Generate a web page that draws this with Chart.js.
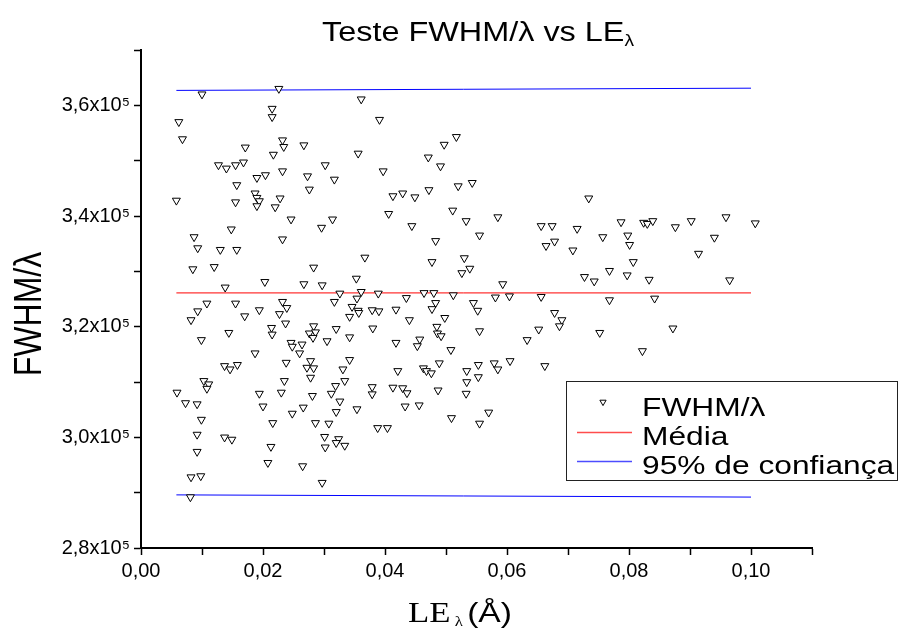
<!DOCTYPE html>
<html lang="pt">
<head>
  <meta charset="UTF-8">
  <title>Teste FWHM/λ vs LEλ</title>
  <script src="https://cdn.jsdelivr.net/npm/chart.js"></script>
  <style>
    body { margin: 0; background: white; }
    .box { width: 900px; height: 637px; }
  </style>
</head>
<body>
  <div class="box"><canvas id="grafico"></canvas></div>

  <script>
    // LE_lambda (Å)
    const leX = [
      0.0100, 0.0062, 0.0068, 0.0127, 0.0140, 0.0058, 0.0087, 0.0093, 0.0130, 0.0085, 0.0120, 0.0138, 0.0108,
      0.0093, 0.0082, 0.0099, 0.0137, 0.0103, 0.0111, 0.0108, 0.0059, 0.0073, 0.0092, 0.0099, 0.0092, 0.0137,
      0.0092, 0.0082, 0.0098, 0.0081,
      0.0226, 0.0361, 0.0215, 0.0215, 0.0391, 0.0232, 0.0234, 0.0171, 0.0267, 0.0217, 0.0356, 0.0155, 0.0168,
      0.0302, 0.0397, 0.0232, 0.0190, 0.0204, 0.0273, 0.0317, 0.0157, 0.0276, 0.0187, 0.0190, 0.0194, 0.0190,
      0.0228, 0.0220, 0.0155, 0.0413, 0.0429, 0.0406, 0.0246, 0.0314, 0.0296, 0.0148, 0.0232, 0.0157, 0.0367,
      0.0283, 0.0353, 0.0203,
      0.0267, 0.0297, 0.0326, 0.0361, 0.0389, 0.0155, 0.0194, 0.0170, 0.0232, 0.0239, 0.0227, 0.0317, 0.0354,
      0.0346, 0.0356, 0.0357, 0.0342, 0.0379, 0.0390, 0.0418, 0.0144, 0.0214, 0.0215, 0.0237, 0.0283, 0.0276,
      0.0286, 0.0282, 0.0320, 0.0305, 0.0342, 0.0380, 0.0418, 0.0246, 0.0248, 0.0264, 0.0260, 0.0187, 0.0146,
      0.0158, 0.0238, 0.0278, 0.0272, 0.0283, 0.0278, 0.0342, 0.0331, 0.0421, 0.0235, 0.0334, 0.0319, 0.0312,
      0.0194, 0.0230, 0.0281, 0.0326, 0.0379, 0.0379, 0.0413, 0.0429, 0.0200, 0.0266, 0.0248, 0.0320, 0.0354,
      0.0216, 0.0286, 0.0308, 0.0388, 0.0404, 0.0149, 0.0301, 0.0302, 0.0324, 0.0320, 0.0334, 0.0213, 0.0208,
      0.0265, 0.0297,
      0.0517, 0.0497, 0.0471, 0.0491, 0.0520, 0.0543, 0.0449, 0.0472, 0.0511, 0.0533, 0.0585, 0.0444, 0.0555,
      0.0483, 0.0656, 0.0674, 0.0715, 0.0664, 0.0678, 0.0708, 0.0477, 0.0530, 0.0539, 0.0526,
      0.0593, 0.0435, 0.0464, 0.0480, 0.0512, 0.0581, 0.0604, 0.0656, 0.0483, 0.0477, 0.0545, 0.0552, 0.0440,
      0.0498, 0.0485, 0.0486, 0.0492, 0.0555, 0.0678, 0.0690, 0.0686, 0.0652, 0.0633, 0.0457, 0.0453, 0.0508,
      0.0489, 0.0463, 0.0468, 0.0476, 0.0534, 0.0553, 0.0553, 0.0579, 0.0585, 0.0605, 0.0662, 0.0534, 0.0533,
      0.0436, 0.0487, 0.0433, 0.0456, 0.0509, 0.0555, 0.0570,
      0.0734, 0.0787, 0.0824, 0.0830, 0.0839, 0.0876, 0.0902, 0.0959, 0.1007, 0.0757, 0.0798, 0.0801, 0.0940,
      0.0914, 0.0807, 0.0727, 0.0743, 0.0768, 0.0797, 0.0833, 0.0965,
      0.0768, 0.0842, 0.0752, 0.0872, 0.0822
    ];
    // FWHM/lambda (x10^5)
    const fwhmY = [
      3.620, 3.570, 3.539, 3.492, 3.486, 3.428, 3.362, 3.342, 3.339, 3.304, 3.308, 3.271, 3.242,
      3.228, 3.212, 3.176, 3.129, 3.102, 3.096, 3.088, 3.081, 3.062, 3.060, 3.032, 3.005, 3.000,
      2.974, 2.928, 2.930, 2.892,
      3.630, 3.611, 3.594, 3.579, 3.574, 3.537, 3.525, 3.524, 3.528, 3.511, 3.513, 3.492, 3.497,
      3.492, 3.481, 3.481, 3.469, 3.474, 3.472, 3.466, 3.456, 3.448, 3.441, 3.433, 3.427, 3.418,
      3.432, 3.416, 3.425, 3.436, 3.441, 3.404, 3.394, 3.394, 3.379, 3.376, 3.358, 3.339, 3.325,
      3.307, 3.287, 3.281,
      3.277, 3.275, 3.260, 3.263, 3.260, 3.242, 3.230, 3.219, 3.245, 3.234, 3.223, 3.245, 3.251,
      3.236, 3.229, 3.225, 3.218, 3.230, 3.228, 3.231, 3.189, 3.198, 3.186, 3.206, 3.201, 3.188,
      3.190, 3.180, 3.196, 3.174, 3.181, 3.197, 3.171, 3.171, 3.164, 3.168, 3.152, 3.152, 3.123,
      3.131, 3.135, 3.138, 3.126, 3.125, 3.108, 3.140, 3.123, 3.120, 3.102, 3.102, 3.093, 3.079,
      3.079, 3.081, 3.075, 3.065, 3.091, 3.078, 3.090, 3.089, 3.056, 3.054, 3.043, 3.046, 3.051,
      3.026, 3.026, 3.025, 3.017, 3.017, 2.996, 3.001, 2.982, 2.997, 2.990, 2.985, 2.983, 2.954,
      2.948, 2.918,
      3.543, 3.529, 3.506, 3.490, 3.454, 3.460, 3.434, 3.447, 3.410, 3.391, 3.398, 3.382, 3.365,
      3.355, 3.382, 3.382, 3.377, 3.346, 3.354, 3.338, 3.317, 3.324, 3.305, 3.297,
      3.277, 3.252, 3.261, 3.261, 3.257, 3.253, 3.255, 3.254, 3.243, 3.232, 3.243, 3.229, 3.212,
      3.216, 3.200, 3.188, 3.183, 3.192, 3.225, 3.212, 3.201, 3.195, 3.176, 3.177, 3.165, 3.158,
      3.134, 3.125, 3.120, 3.116, 3.120, 3.131, 3.109, 3.134, 3.123, 3.138, 3.129, 3.100, 3.079,
      3.080, 3.085, 3.056, 3.058, 3.035, 3.025, 3.045,
      3.432, 3.389, 3.388, 3.386, 3.391, 3.380, 3.391, 3.398, 3.387, 3.362, 3.365, 3.348, 3.361,
      3.332, 3.317, 3.290, 3.282, 3.301, 3.293, 3.285, 3.284,
      3.248, 3.251, 3.189, 3.197, 3.156
    ];
    // linhas: media e limites de 95%
    const mediaX = [0.0058, 0.1000];
    const mediaY = [3.261, 3.261];
    const confX = [0.0058, 0.1000];
    const confSup = [3.627, 3.631];
    const confInf = [2.896, 2.892];
    const ticksX = [0, 0.02, 0.04, 0.06, 0.08, 0.10];
    const ticksY = [2.8, 3.0, 3.2, 3.4, 3.6];

    const fonte = '"Liberation Sans", Arial, sans-serif';
    const pts = (xs, ys) => xs.map((x, i) => ({ x: x, y: ys[i] }));

    function textoLargo(ctx, txt, x, y, sx, font, align) {
      ctx.save();
      ctx.font = font;
      ctx.translate(x, y);
      ctx.scale(sx, 1);
      ctx.textAlign = align || 'left';
      ctx.textBaseline = 'alphabetic';
      ctx.fillStyle = 'black';
      ctx.fillText(txt, 0, 0);
      ctx.restore();
    }

    // titulo, titulos dos eixos e legenda (no estilo do Origin)
    const textos = {
      id: 'textos',
      afterDraw(chart) {
        const ctx = chart.ctx;
        const sx = 1.2;
        // titulo
        ctx.font = '27px ' + fonte;
        const t1 = 'Teste FWHM/λ vs LE';
        const w1 = ctx.measureText(t1).width * sx;
        ctx.font = '16px ' + fonte;
        const w2 = ctx.measureText('λ').width * sx;
        const x0 = 478 - (w1 + w2) / 2;
        textoLargo(ctx, t1, x0, 41, sx, '27px ' + fonte);
        textoLargo(ctx, 'λ', x0 + w1, 46, sx, '16px ' + fonte);

        // eixo y
        ctx.save();
        ctx.translate(41, 314);
        ctx.rotate(-Math.PI / 2);
        ctx.scale(1, 1.2);
        ctx.font = '32px ' + fonte;
        ctx.textAlign = 'center';
        ctx.fillStyle = 'black';
        ctx.fillText('FWHM/λ', 0, 0);
        ctx.restore();

        // eixo x
        const serif = '"Liberation Serif", "Times New Roman", serif';
        ctx.font = '29px ' + serif;
        const a = ctx.measureText('LE').width * sx;
        ctx.font = '14px ' + serif;
        const b = ctx.measureText(' λ ').width * sx;
        ctx.font = '28px ' + fonte;
        const c = ctx.measureText('(Å)').width * sx;
        const xi = 460 - (a + b + c) / 2;
        textoLargo(ctx, 'LE', xi, 622, sx, '29px ' + serif);
        textoLargo(ctx, ' λ ', xi + a, 626, sx, '14px ' + serif);
        textoLargo(ctx, '(Å)', xi + a + b, 622, sx, '28px ' + fonte);

        // legenda
        ctx.save();
        ctx.strokeStyle = '#222';
        ctx.lineWidth = 1;
        ctx.fillStyle = 'white';
        ctx.fillRect(566, 381, 332, 99);
        ctx.strokeRect(566.5, 381.5, 331, 99);
        ctx.restore();
        const linhas = [402, 432, 461];
        const bases = [416, 445, 474];
        let k = 0;
        chart.data.datasets.forEach(ds => {
          if (ds.semLegenda) return;
          const yy = linhas[k];
          ctx.save();
          if (ds.showLine === false) {
            ctx.strokeStyle = 'black';
            ctx.fillStyle = 'white';
            Chart.helpers.drawPoint(ctx, { pointStyle: 'triangle', rotation: 180, radius: 3.6, borderWidth: 1 }, 603, yy);
          } else {
            ctx.strokeStyle = ds.borderColor;
            ctx.lineWidth = 1.5;
            ctx.globalAlpha = 0.7;
            ctx.beginPath();
            ctx.moveTo(577, yy + 0.5);
            ctx.lineTo(632, yy + 0.5);
            ctx.stroke();
          }
          ctx.restore();
          textoLargo(ctx, ds.label, 642, bases[k], 1.22, '26px ' + fonte);
          k++;
        });
      }
    };

    const ctx = document.getElementById('grafico').getContext('2d');
    new Chart(ctx, {
      type: 'scatter',
      data: {
        datasets: [
          {
            label: 'FWHM/λ',
            data: pts(leX, fwhmY),
            showLine: false,
            pointStyle: 'triangle',
            rotation: 180,
            pointRadius: 4.6,
            borderWidth: 1,
            borderColor: 'black',
            backgroundColor: 'white'
          },
          {
            label: 'Média',
            type: 'line',
            data: pts(mediaX, mediaY),
            borderColor: '#ff0000',
            borderWidth: 1,
            pointRadius: 0
          },
          {
            label: '95% de confiança',
            type: 'line',
            data: pts(confX, confSup),
            borderColor: '#0000ff',
            borderWidth: 1,
            pointRadius: 0
          },
          {
            label: '95% de confiança',
            semLegenda: true,
            type: 'line',
            data: pts(confX, confInf),
            borderColor: '#0000ff',
            borderWidth: 1,
            pointRadius: 0
          }
        ]
      },
      options: {
        responsive: true,
        maintainAspectRatio: false,
        animation: false,
        layout: { padding: { top: 50, right: 88, left: 0, bottom: 0 } },
        plugins: {
          legend: { display: false },
          title: { display: false },
          tooltip: { enabled: false }
        },
        scales: {
          x: {
            type: 'linear',
            min: 0,
            max: 0.11,
            afterFit: s => { s.height = 89; },
            afterBuildTicks: s => {
              s.ticks = [];
              for (let i = 0; i <= 11; i++) s.ticks.push({ value: i / 100 });
            },
            ticks: {
              autoSkip: false,
              maxRotation: 0,
              padding: 4,
              color: 'black',
              font: { family: fonte, size: 20 },
              callback: v => {
                const t = ticksX.find(q => Math.abs(q - v) < 1e-6);
                return t === undefined ? '' : t.toFixed(2).replace('.', ',');
              }
            },
            grid: { drawOnChartArea: false, drawTicks: true, tickLength: 7, tickColor: 'black', tickWidth: 1.5 },
            border: { display: true, color: 'black', width: 2 }
          },
          y: {
            min: 2.8,
            max: 3.7,
            afterFit: s => { s.width = 141; },
            afterBuildTicks: s => {
              s.ticks = [];
              for (let i = 0; i <= 9; i++) s.ticks.push({ value: 2.8 + i / 10 });
            },
            ticks: {
              autoSkip: false,
              padding: 4,
              color: 'black',
              font: { family: fonte, size: 20 },
              callback: v => {
                const t = ticksY.find(q => Math.abs(q - v) < 1e-6);
                return t === undefined ? '' : t.toFixed(1).replace('.', ',') + 'x10⁵';
              }
            },
            grid: { drawOnChartArea: false, drawTicks: true, tickLength: 7, tickColor: 'black', tickWidth: 1.5 },
            border: { display: true, color: 'black', width: 2 }
          }
        }
      },
      plugins: [textos]
    });
  </script>
</body>
</html>
